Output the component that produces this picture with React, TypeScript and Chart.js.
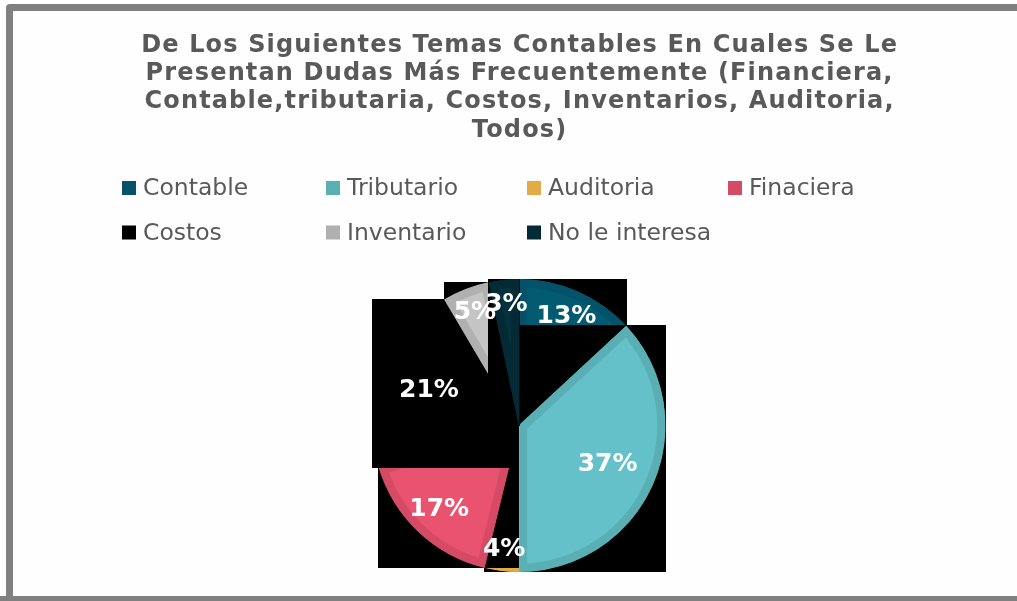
import React, { useEffect, useRef } from "react";
import { Chart, registerables } from "chart.js";

Chart.register(...registerables);

const titleLines = [
  "De Los Siguientes Temas Contables En Cuales Se Le",
  "Presentan Dudas Más Frecuentemente (Financiera,",
  "Contable,tributaria, Costos, Inventarios, Auditoria,",
  "Todos)",
];
const categories = ["Contable", "Tributario", "Auditoria", "Finaciera", "Costos", "Inventario", "No le interesa"];
const shares = [13.1, 36.9, 3.8, 16.6, 21.1, 5.2, 3.3];
const fillColors = ["#035b71", "#65c1c9", "#efb64a", "#e9536f", "#000000", "#c4c4c4", "#06313e"];
const edgeColors = ["#04526a", "#5aafb5", "#e3ab45", "#d54a65", "#000000", "#b0b0b0", "#032a35"];
// label distance from centre, as a fraction of the radius (Excel "best fit" look)
const labelRadius = [0.81, 0.66, 0.85, 0.79, 0.66, 0.83, 0.83];

const TEXT_GREY = "#595959";
const FONT = "'DejaVu Sans', Verdana, sans-serif";
const LEGEND_COLS = [122, 326, 527, 728];
const LEGEND_ROWS = [188, 232.5];
const TITLE_Y = [45.5, 73.8, 102, 130.5];

const excelPie = {
  id: "excelPie",
  beforeDatasetDraw(chart: any, args: any) {
    const ctx = chart.ctx;
    ctx.save();
    args.meta.data.forEach((arc: any) => {
      const p = arc.getProps(["x", "y", "startAngle", "endAngle", "outerRadius"], true);
      const xs = [p.x];
      const ys = [p.y];
      const add = (a: number) => {
        xs.push(p.x + p.outerRadius * Math.cos(a));
        ys.push(p.y + p.outerRadius * Math.sin(a));
      };
      add(p.startAngle);
      add(p.endAngle);
      for (let k = -4; k <= 8; k++) {
        const a = (k * Math.PI) / 2;
        if (a > p.startAngle && a < p.endAngle) add(a);
      }
      const x0 = Math.floor(Math.min(...xs));
      const x1 = Math.ceil(Math.max(...xs));
      const y0 = Math.floor(Math.min(...ys));
      const y1 = Math.ceil(Math.max(...ys));
      ctx.fillStyle = "#000";
      ctx.fillRect(x0, y0, x1 - x0, y1 - y0);
      arc.draw(ctx);
    });
    ctx.restore();
    return false;
  },
  afterDatasetsDraw(chart: any) {
    const ctx = chart.ctx;
    const meta = chart.getDatasetMeta(0);
    const data = chart.data.datasets[0].data as number[];
    const total = data.reduce((a, b) => a + b, 0);
    ctx.save();
    ctx.font = `bold 25px ${FONT}`;
    ctx.fillStyle = "#ffffff";
    ctx.textAlign = "center";
    ctx.textBaseline = "middle";
    meta.data.forEach((arc: any, i: number) => {
      const p = arc.getProps(["x", "y", "startAngle", "endAngle", "outerRadius"], true);
      const mid = (p.startAngle + p.endAngle) / 2;
      const r = p.outerRadius * labelRadius[i];
      const txt = Math.round((data[i] / total) * 100) + "%";
      ctx.fillText(txt, p.x + r * Math.cos(mid), p.y + r * Math.sin(mid));
    });
    ctx.restore();
  },
  afterDraw(chart: any) {
    const ctx = chart.ctx;
    const area = chart.chartArea;
    const cx = (area.left + area.right) / 2;
    ctx.save();
    // title
    ctx.font = `bold 24px ${FONT}`;
    ctx.fillStyle = TEXT_GREY;
    ctx.textAlign = "center";
    ctx.textBaseline = "middle";
    (ctx as any).letterSpacing = "1.15px";
    titleLines.forEach((line, i) => ctx.fillText(line, cx + 0.6, TITLE_Y[i]));
    (ctx as any).letterSpacing = "0px";
    // legend
    ctx.font = `23.5px ${FONT}`;
    ctx.textAlign = "left";
    const labels = chart.data.labels as string[];
    const colors = chart.data.datasets[0].borderColor as string[];
    labels.forEach((lab, i) => {
      const col = i % 4;
      const row = Math.floor(i / 4);
      const x = LEGEND_COLS[col];
      const y = LEGEND_ROWS[row];
      ctx.fillStyle = colors[i];
      ctx.fillRect(x, y - 7, 14, 14);
      ctx.fillStyle = TEXT_GREY;
      ctx.fillText(lab, x + 21, y + 1);
    });
    ctx.restore();
  },
};

export default function App() {
  const ref = useRef<HTMLCanvasElement | null>(null);
  useEffect(() => {
    document.body.style.margin = "0";
    if (!ref.current) return;
    const chart = new Chart(ref.current, {
      type: "pie",
      data: {
        labels: categories,
        datasets: [
          {
            data: shares,
            backgroundColor: fillColors,
            borderColor: edgeColors,
            borderWidth: 8,
            borderAlign: "inner",
          } as any,
        ],
      },
      options: {
        responsive: false,
        animation: false,
        layout: { padding: { top: 279, bottom: 29, left: 21, right: 0 } },
        plugins: {
          legend: { display: false },
          title: { display: false },
          tooltip: { enabled: false },
        },
      },
      plugins: [excelPie],
    });
    return () => chart.destroy();
  }, []);

  return (
    <div style={{ position: "fixed", left: 0, top: 0, width: 1017, height: 601, overflow: "hidden", background: "#ffffff" }}>
      <div
        style={{
          position: "absolute",
          left: 6,
          top: 4,
          width: 1040,
          height: 640,
          boxSizing: "border-box",
          border: "7px solid #808080",
          borderRadius: 4,
          background: "#fefefe",
        }}
      />
      <div
        style={{
          position: "absolute",
          left: 0,
          top: 596,
          width: 1017,
          height: 5,
          background: "#808080",
        }}
      />
      <canvas ref={ref} width={1017} height={601} style={{ position: "absolute", left: 0, top: 0, display: "block" }} />
    </div>
  );
}
